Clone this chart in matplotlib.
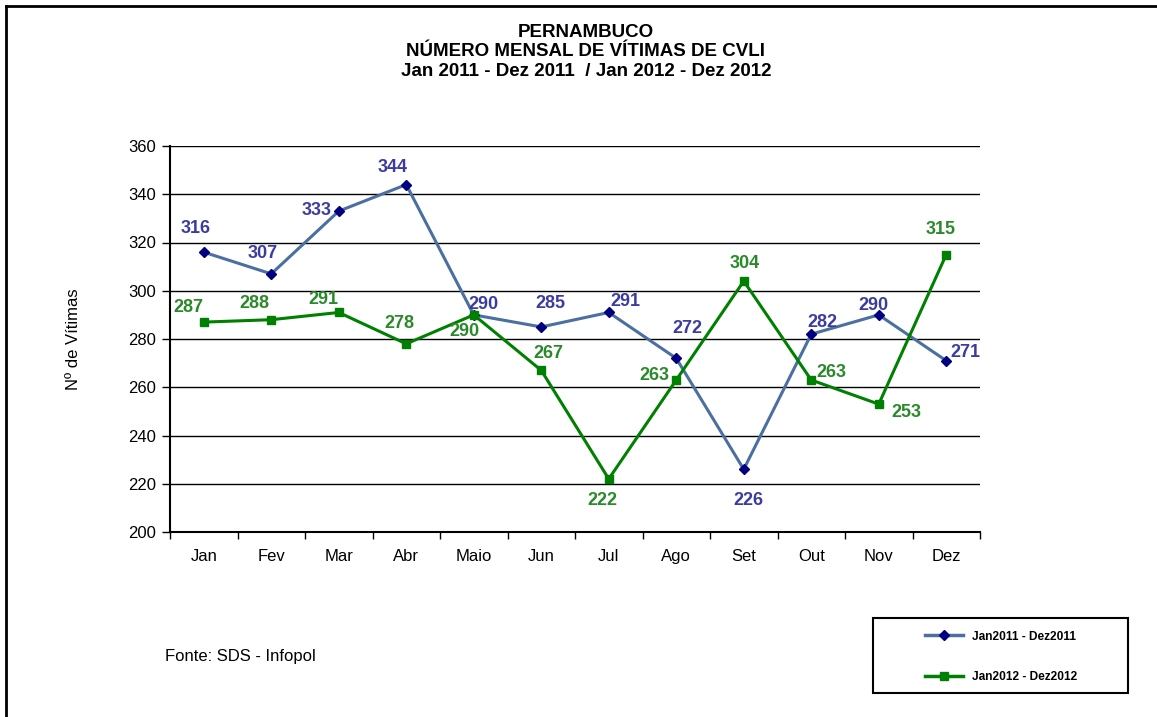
import numpy as np
from matplotlib import pyplot as plt
from matplotlib.lines import Line2D
from matplotlib.patches import Rectangle

plt.rcParams['font.family'] = ['Liberation Sans', 'DejaVu Sans']

months = ['Jan', 'Fev', 'Mar', 'Abr', 'Maio', 'Jun', 'Jul', 'Ago', 'Set', 'Out', 'Nov', 'Dez']
vitimas_2011 = [316, 307, 333, 344, 290, 285, 291, 272, 226, 282, 290, 271]
vitimas_2012 = [287, 288, 291, 278, 290, 267, 222, 263, 304, 263, 253, 315]

# label offsets in pixels (dx, dy)
off_2011 = [(-8, 24), (-9, 20), (-22, 1), (-14, 17), (10, 10), (9, 23),
            (17, 11), (11, 30), (5, -31), (11, 12), (-5, 9), (19, 8)]
off_2012 = [(-15, 15), (-17, 16), (-15, 13), (-7, 20), (-9, -17), (7, 17),
            (-6, -22), (-22, 5), (1, 18), (20, 8), (28, -8), (-6, 25)]

blue_line = '#4a6fa0'
blue_mark = '#000080'
blue_text = '#3c3ca0'
green = '#008000'
green_text = '#2a8a2a'

fig = plt.figure(figsize=(11.57, 7.17), dpi=100)
ax = fig.add_axes([170 / 1157, 1 - 532 / 717, 810 / 1157, 386 / 717])

x = np.arange(len(months))
ax.plot(x, vitimas_2011, color=blue_line, lw=2.2, marker='D', ms=5,
        mfc=blue_mark, mec=blue_mark, zorder=3)
ax.plot(x, vitimas_2012, color=green, lw=2.2, marker='s', ms=5.5,
        mfc=green, mec=green, zorder=3)

for i in range(len(months)):
    ax.annotate(str(vitimas_2011[i]), (x[i], vitimas_2011[i]), xytext=off_2011[i],
                textcoords='offset pixels', ha='center', va='center',
                color=blue_text, fontsize=13, fontweight='bold')
    ax.annotate(str(vitimas_2012[i]), (x[i], vitimas_2012[i]), xytext=off_2012[i],
                textcoords='offset pixels', ha='center', va='center',
                color=green_text, fontsize=13, fontweight='bold')

ax.set_xlim(-0.5, 11.5)
ax.set_ylim(200, 360)
ax.set_yticks(np.arange(200, 361, 20))
ax.yaxis.grid(True, color='black', lw=1)
ax.set_axisbelow(True)
ax.set_xticks(x)
ax.set_xticklabels(months, fontsize=12)
ax.set_xticks(np.arange(-0.5, 12, 1), minor=True)
ax.tick_params(axis='x', which='major', length=0, pad=12)
ax.tick_params(axis='x', which='minor', length=5, width=1, direction='out')
ax.tick_params(axis='y', length=6, width=1, labelsize=12, pad=4)
for side in ['top', 'right']:
    ax.spines[side].set_visible(False)
ax.spines['left'].set_linewidth(1.5)
ax.spines['bottom'].set_linewidth(1.5)
ax.set_ylabel('Nº de Vítimas', fontsize=12, labelpad=34)

fig.text(586 / 1157, 1 - 52 / 717,
         'PERNAMBUCO\nNÚMERO MENSAL DE VÍTIMAS DE CVLI\nJan 2011 - Dez 2011  / Jan 2012 - Dez 2012',
         ha='center', va='center', fontsize=13.5, fontweight='bold', linespacing=1.2)
fig.text(165 / 1157, 1 - 657 / 717, 'Fonte: SDS - Infopol', fontsize=12, va='center')

# outer frame (left and top edges)
fig.add_artist(Line2D([6 / 1157, 6 / 1157], [0, 1 - 6 / 717], color='black', lw=2, transform=fig.transFigure))
fig.add_artist(Line2D([6 / 1157, 1], [1 - 6 / 717, 1 - 6 / 717], color='black', lw=2, transform=fig.transFigure))

# legend frame drawn separately, legend entries placed inside it
fig.add_artist(Rectangle((873 / 1157, 1 - 693 / 717), 255 / 1157, 75 / 717, transform=fig.transFigure,
                         fill=False, edgecolor='black', lw=1.5))
handles = [Line2D([], [], color=blue_line, lw=2.5, marker='D', ms=5, mfc=blue_mark, mec=blue_mark),
           Line2D([], [], color=green, lw=2.5, marker='s', ms=5.5, mfc=green, mec=green)]
fig.legend(handles, ['Jan2011 - Dez2011', 'Jan2012 - Dez2012'],
           loc='center left', bbox_to_anchor=(925 / 1157, 1 - 657 / 717),
           frameon=False, prop={'size': 8.6, 'weight': 'bold'}, handlelength=3.2,
           labelspacing=2.4, borderpad=0, handletextpad=0.7, borderaxespad=0)

fig.savefig('out.png', dpi=100)
